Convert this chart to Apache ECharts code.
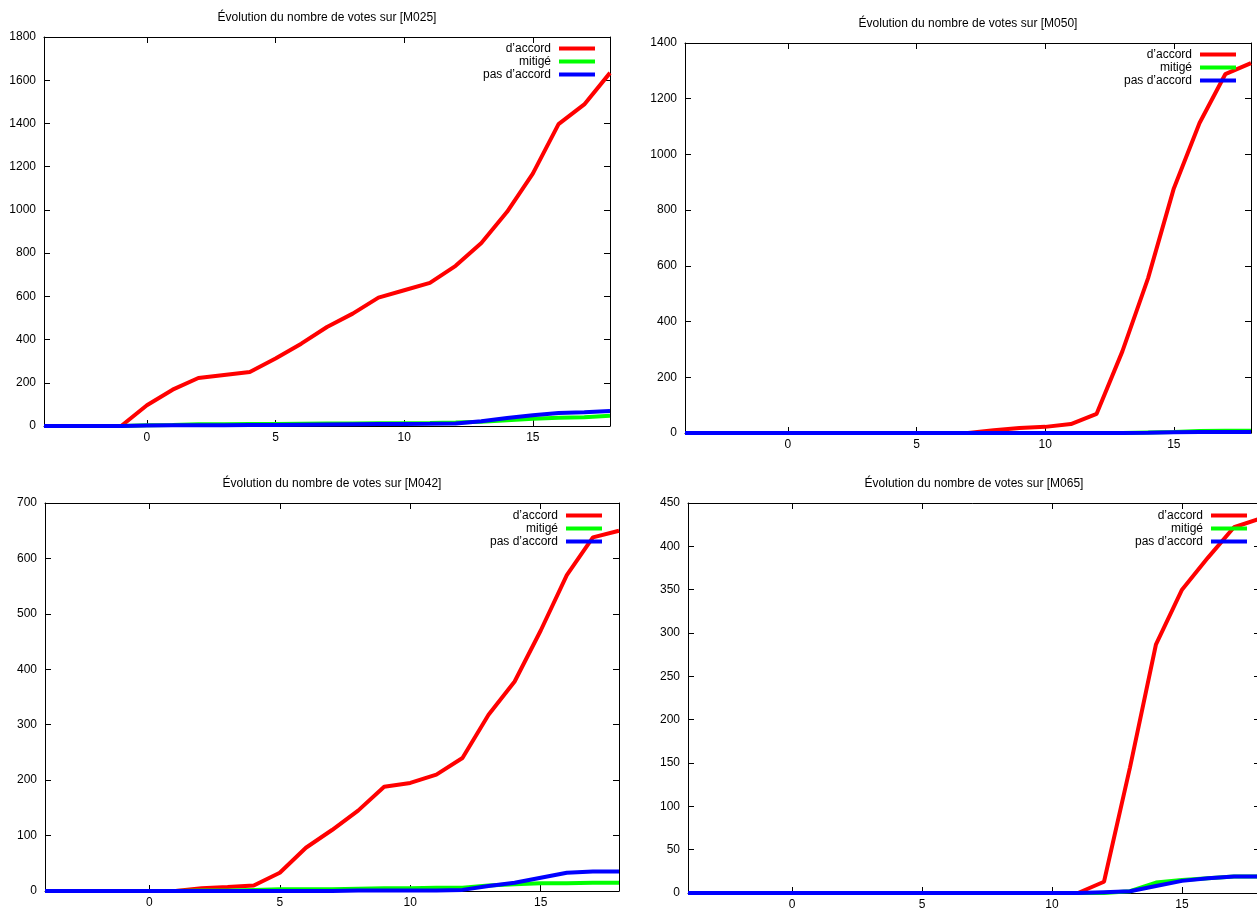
<!DOCTYPE html>
<html>
<head>
<meta charset="utf-8">
<script src="https://cdn.jsdelivr.net/npm/echarts@6/dist/echarts.min.js"></script>
<style>
  html, body { margin: 0; padding: 0; background: #fff; }
  #chart { width: 1257px; height: 911px; }
</style>
</head>
<body>
<div id="chart"></div>
<script>
// x positions (days), same for every panel
const xs = [-4, -3, -2, -1, 0, 1, 2, 3, 4, 5, 6, 7, 8, 9, 10, 11, 12, 13, 14, 15, 16, 17, 18]
const xTickValues = [0, 5, 10, 15]
const seriesNames = ['d’accord', 'mitigé', 'pas d’accord']
const colors = ['#ff0000', '#00ff00', '#0000ff']

// [M025]
const m025Accord = [0, 0, 0, 0, 96, 168, 222, 236, 250, 312, 381, 458, 520, 594, 628, 662, 741, 847, 991, 1168, 1397, 1488, 1634]
const m025Mitige = [0, 0, 0, 0, 3, 5, 8, 8, 9, 9, 10, 11, 12, 13, 13, 14, 16, 20, 27, 33, 38, 41, 47]
const m025PasAccord = [0, 0, 0, 0, 2, 3, 4, 4, 5, 5, 6, 7, 8, 9, 9, 10, 12, 22, 37, 50, 60, 64, 69]
// [M050]
const m050Accord = [0, 0, 0, 0, 0, 0, 0, 0, 0, 0, 0, 0, 10, 18, 22, 32, 69, 293, 556, 878, 1113, 1288, 1328]
const m050Mitige = [0, 0, 0, 0, 0, 0, 0, 0, 0, 0, 0, 0, 0, 0, 0, 0, 0, 0, 2, 4, 7, 8, 8]
const m050PasAccord = [0, 0, 0, 0, 0, 0, 0, 0, 0, 0, 0, 0, 0, 0, 0, 0, 0, 0, 1, 3, 4, 4, 4]
// [M042]
const m042Accord = [0, 0, 0, 0, 0, 0, 5, 7, 10, 33, 78, 110, 145, 188, 195, 210, 240, 318, 378, 470, 570, 638, 650]
const m042Mitige = [0, 0, 0, 0, 0, 0, 1, 1, 2, 3, 3, 3, 4, 5, 5, 6, 6, 10, 12, 14, 14, 15, 15]
const m042PasAccord = [0, 0, 0, 0, 0, 0, 0, 0, 0, 0, 0, 0, 1, 1, 1, 1, 2, 9, 15, 24, 33, 35, 35]
// [M065]
const m065Accord = [0, 0, 0, 0, 0, 0, 0, 0, 0, 0, 0, 0, 0, 0, 0, 0, 13, 145, 287, 350, 387, 422, 432]
const m065Mitige = [0, 0, 0, 0, 0, 0, 0, 0, 0, 0, 0, 0, 0, 0, 0, 0, 0, 2, 12, 15, 17, 19, 19]
const m065PasAccord = [0, 0, 0, 0, 0, 0, 0, 0, 0, 0, 0, 0, 0, 0, 0, 0, 1, 2, 8, 14, 17, 19, 19]

const font = 'Liberation Sans, Arial, sans-serif'

const panels = [
  { title: 'Évolution du nombre de votes sur [M025]', yMax: 1800, yStep: 200, values: [m025Accord, m025Mitige, m025PasAccord],
    grid: { left: 44, top: 37, width: 566, height: 389 }, legendPos: { right: 662, top: 42 } },
  { title: 'Évolution du nombre de votes sur [M050]', yMax: 1400, yStep: 200, values: [m050Accord, m050Mitige, m050PasAccord],
    grid: { left: 685, top: 43, width: 566, height: 390 }, legendPos: { right: 21, top: 48 } },
  { title: 'Évolution du nombre de votes sur [M042]', yMax: 700, yStep: 100, values: [m042Accord, m042Mitige, m042PasAccord],
    grid: { left: 45, top: 503, width: 574, height: 388 }, legendPos: { right: 655, top: 509 } },
  { title: 'Évolution du nombre de votes sur [M065]', yMax: 450, yStep: 50, values: [m065Accord, m065Mitige, m065PasAccord],
    grid: { left: 688, top: 503, width: 572, height: 390 }, legendPos: { right: 10, top: 509 } }
]

// gnuplot style border: plain black box, ticks pointing inwards on all four sides
const axisLine = { show: true, onZero: false, lineStyle: { color: '#000', width: 1 } }
const tick = { show: true, inside: true, length: 6, lineStyle: { color: '#000' } }
const plain = v => String(v)

const option = {
  animation: false,
  backgroundColor: '#fff',
  textStyle: { fontFamily: font },
  grid: panels.map(p => ({ ...p.grid, outerBoundsMode: 'none' })),
  xAxis: panels.flatMap((p, i) => [
    {
      type: 'value', gridIndex: i, position: 'bottom', min: -4, max: 18,
      axisLine, splitLine: { show: false },
      axisTick: { ...tick, customValues: xTickValues },
      axisLabel: { color: '#000', fontSize: 12, fontFamily: font, margin: 6, customValues: xTickValues, formatter: plain }
    },
    {
      type: 'value', gridIndex: i, position: 'top', min: -4, max: 18,
      axisLine, splitLine: { show: false },
      axisTick: { ...tick, customValues: xTickValues },
      axisLabel: { show: false }
    }
  ]),
  yAxis: panels.flatMap((p, i) => [
    {
      type: 'value', gridIndex: i, position: 'left', min: 0, max: p.yMax, interval: p.yStep,
      axisLine, splitLine: { show: false }, axisTick: tick,
      axisLabel: { color: '#000', fontSize: 12, fontFamily: font, margin: 8, formatter: plain }
    },
    {
      type: 'value', gridIndex: i, position: 'right', min: 0, max: p.yMax, interval: p.yStep,
      axisLine, splitLine: { show: false }, axisTick: tick,
      axisLabel: { show: false }
    }
  ]),
  legend: panels.map(p => ({
    ...p.legendPos,
    orient: 'vertical',
    align: 'right',
    icon: 'rect',
    itemWidth: 36,
    itemHeight: 4,
    itemGap: 0,
    padding: 0,
    selectedMode: false,
    data: seriesNames,
    textStyle: { color: '#000', fontSize: 12, fontFamily: font, lineHeight: 13, padding: [0, 3, 0, 0] }
  })),
  series: panels.flatMap((p, i) => p.values.map((vals, k) => ({
    type: 'line',
    name: seriesNames[k],
    xAxisIndex: 2 * i,
    yAxisIndex: 2 * i,
    data: xs.map((x, j) => [x, vals[j]]),
    symbol: 'none',
    color: colors[k],
    lineStyle: { color: colors[k], width: 4 },
    z: 2 + k
  }))),
  graphic: panels.map(p => ({
    type: 'text',
    x: p.grid.left + p.grid.width / 2,
    y: p.grid.top - 19,
    style: { text: p.title, fill: '#000', font: '12px ' + font, textAlign: 'center', textVerticalAlign: 'middle' }
  }))
}

const chart = echarts.init(document.getElementById('chart'))
chart.setOption(option)
</script>
</body>
</html>
